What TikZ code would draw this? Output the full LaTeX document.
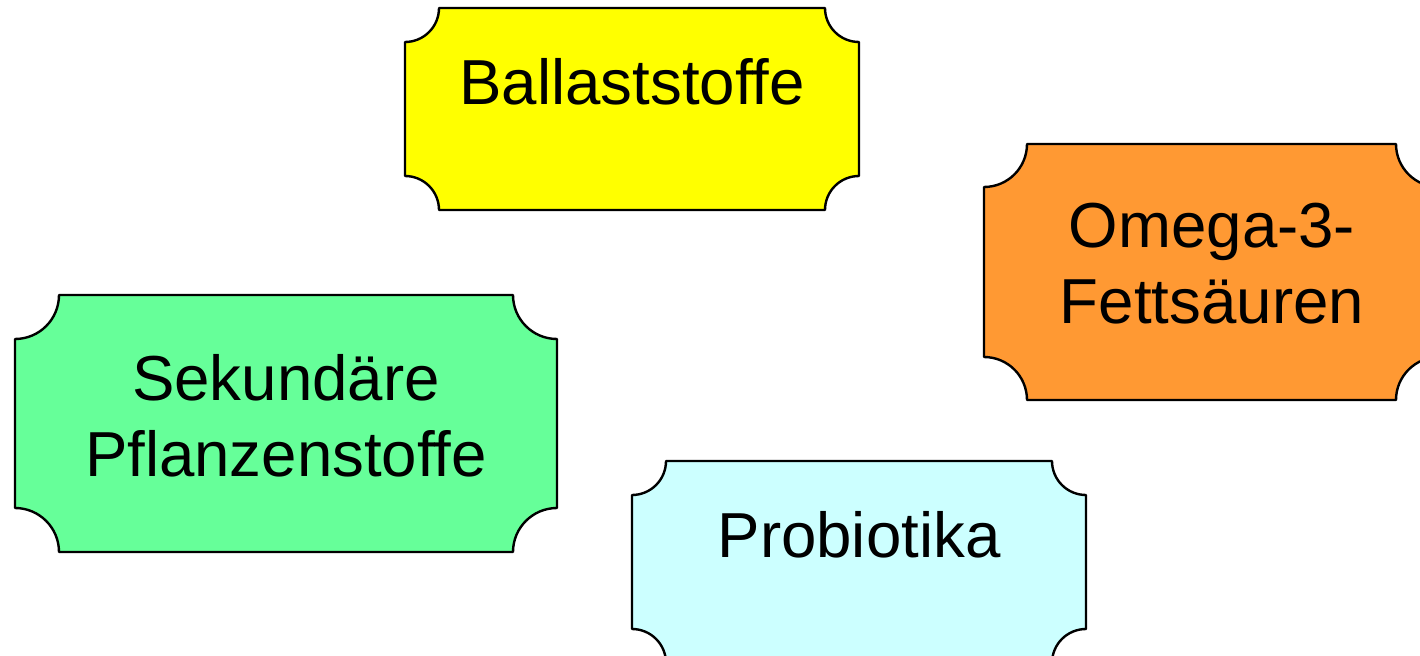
\documentclass[tikz,border=0pt]{standalone}
\usepackage{fontspec}
\setmainfont{Liberation Sans}
\definecolor{cYellow}{HTML}{FFFF00}
\definecolor{cOrange}{HTML}{FF9933}
\definecolor{cGreen}{HTML}{66FF99}
\definecolor{cCyan}{HTML}{CCFFFF}
\newcommand{\plaquepath}[6]{%
  \draw[plaque, fill=#6] (#1+#5,#4) -- (#3-#5,#4) arc (180:270:#5) -- (#3,#2+#5) arc (90:180:#5)
    -- (#1+#5,#2) arc (0:90:#5) -- (#1,#4-#5) arc (270:360:#5) -- cycle;}
\tikzset{
  plaque/.style={draw=black, line width=1.2pt, line join=round},
  lbl/.style={anchor=base, inner sep=0pt, font=\fontsize{31.8}{38}\selectfont}
}
\begin{document}
\begin{tikzpicture}[x=0.5pt,y=0.5pt]
\useasboundingbox (0,0) rectangle (1420,655);
\clip (0,0) rectangle (1420,655);
\plaquepath{405}{445}{859}{647}{34}{cYellow}
\plaquepath{984}{255}{1439}{511}{43}{cOrange}
\plaquepath{15}{103}{557}{360}{44}{cGreen}
\plaquepath{632}{-8}{1086}{194}{34}{cCyan}
\node[lbl] (ballast) at (632,551) {Ballaststoffe};
\node[lbl] (omega1) at (1212,408) {Omega-3-};
\node[lbl] (omega2) at (1212,332) {Fettsäuren};
\node[lbl] (sek1) at (286,255) {Sekundäre};
\node[lbl] (sek2) at (286,179) {Pflanzenstoffe};
\node[lbl] (prob) at (859,98) {Probiotika};
\end{tikzpicture}
\end{document}
